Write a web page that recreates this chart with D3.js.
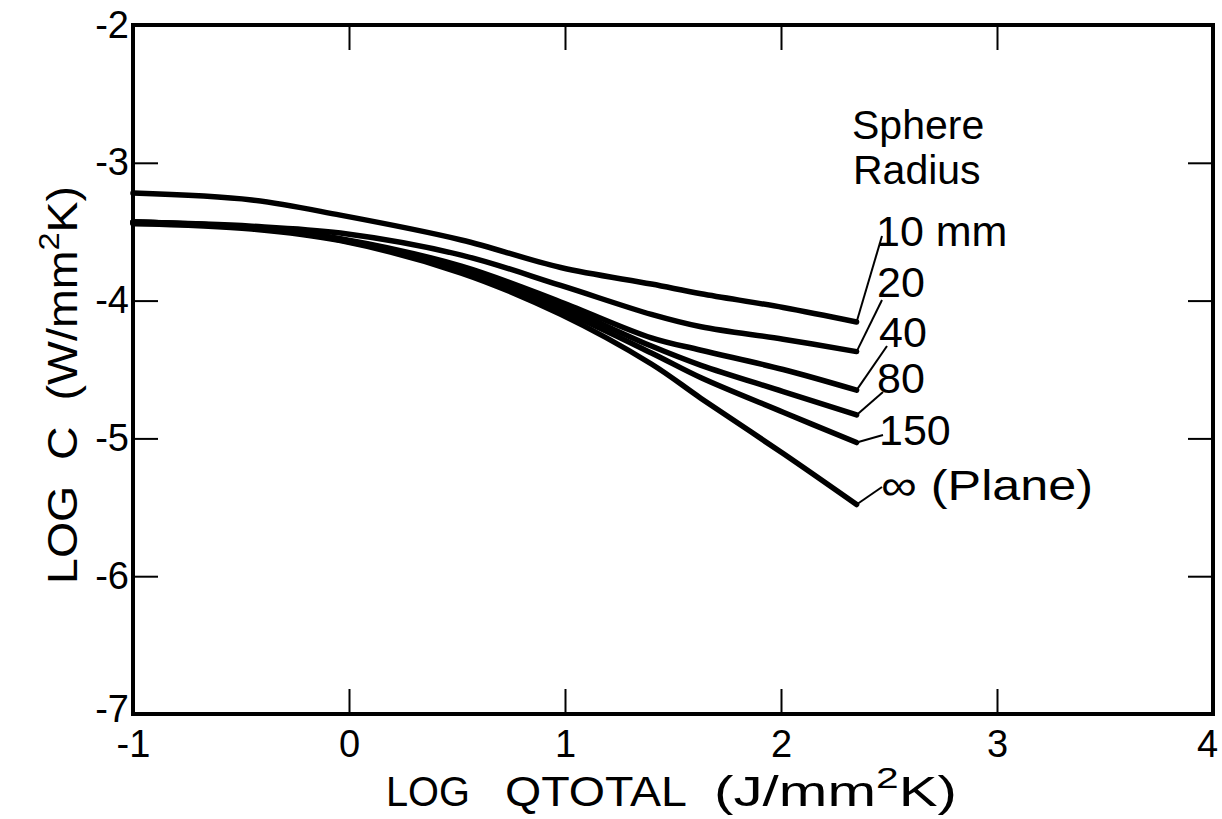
<!DOCTYPE html>
<html>
<head>
<meta charset="utf-8">
<script src="https://cdn.jsdelivr.net/npm/d3@7"></script>
<style>
  html, body { margin: 0; padding: 0; background: #fff; }
  svg { display: block; font-family: "Liberation Sans", Arial, sans-serif; }
</style>
</head>
<body>
<svg id="chart" width="1222" height="819"></svg>
<script>
'use strict';

// log Qtotal values where the curves were read
const logQ = [-1, -0.45, -0.04, 0.52, 0.98, 1.40, 1.63, 2.01, 2.35];

// log C for each sphere radius
const c10    = [-3.22, -3.27, -3.38, -3.56, -3.76, -3.88, -3.95, -4.05, -4.155];
const c20    = [-3.43, -3.46, -3.51, -3.67, -3.89, -4.10, -4.19, -4.28, -4.37];
const c40    = [-3.43, -3.47, -3.55, -3.75, -4.01, -4.27, -4.36, -4.50, -4.65];
const c80    = [-3.43, -3.47, -3.555, -3.77, -4.04, -4.33, -4.47, -4.66, -4.83];
const c150   = [-3.44, -3.47, -3.56, -3.78, -4.07, -4.38, -4.56, -4.81, -5.03];
const cPlane = [-3.44, -3.48, -3.565, -3.80, -4.10, -4.46, -4.71, -5.11, -5.48];

const seriesNames = ['10 mm', '20', '40', '80', '150', '\u221E (Plane)'];
const seriesValues = [c10, c20, c40, c80, c150, cPlane];

// axis ticks
const xTicks = [-1, 0, 1, 2, 3, 4];
const yTicks = [-2, -3, -4, -5, -6, -7];

// where the curve labels sit (text pos + leader line end), in pixels
const labelLayout = [
    { tx: 876, ty: 246, lx: 882, ly: 236 },
    { tx: 877, ty: 297, lx: 882, ly: 300 },
    { tx: 879, ty: 347, lx: 887, ly: 346 },
    { tx: 877, ty: 393, lx: 883, ly: 392 },
    { tx: 879, ty: 445, lx: 883, ly: 435 },
    { tx: 881, ty: 500, lx: 882, ly: 487 }
];

const svg = d3.select('#chart');

// plot frame
const frame = { left: 133, right: 1213, top: 25, bottom: 714 };

const x = d3.scaleLinear().domain([-1, 4]).range([frame.left, frame.right]);
const y = d3.scaleLinear().domain([-2, -7]).range([frame.top, frame.bottom]);

// ticks point inwards on all four sides
const tickLen = 25;
const fmt = d => String(d);

const gx = svg.append('g')
    .attr('transform', `translate(0,${frame.bottom})`)
    .call(d3.axisBottom(x).tickValues(xTicks).tickSize(-tickLen).tickPadding(16).tickFormat(fmt));

const gxTop = svg.append('g')
    .attr('transform', `translate(0,${frame.top})`)
    .call(d3.axisTop(x).tickValues(xTicks).tickSize(-tickLen).tickFormat(''));

const gy = svg.append('g')
    .attr('transform', `translate(${frame.left},0)`)
    .call(d3.axisLeft(y).tickValues(yTicks).tickSize(-tickLen).tickPadding(4).tickFormat(fmt));

const gyRight = svg.append('g')
    .attr('transform', `translate(${frame.right},0)`)
    .call(d3.axisRight(y).tickValues(yTicks).tickSize(-tickLen).tickFormat(''));

// style axes
[gx, gxTop, gy, gyRight].forEach(g => {
    g.select('.domain').remove();
    g.selectAll('.tick line').attr('stroke', '#000').attr('stroke-width', 2);
    g.selectAll('.tick text')
        .attr('fill', '#000')
        .attr('font-size', 38)
        .attr('font-family', '"Liberation Sans", Arial, sans-serif');
});

gx.selectAll('.tick text').attr('dy', '0.71em');
// last x label sits against the page edge, first y label corner gets nudged up
gx.selectAll('.tick text').filter(d => d === 4).attr('dx', -6);
gy.selectAll('.tick text').filter(d => d === -7).attr('dy', '0.2em');

svg.append('rect')
    .attr('x', frame.left)
    .attr('y', frame.top)
    .attr('width', frame.right - frame.left)
    .attr('height', frame.bottom - frame.top)
    .attr('fill', 'none')
    .attr('stroke', '#000')
    .attr('stroke-width', 4);

// curves
const line = d3.line()
    .x((d, i) => x(logQ[i]))
    .y(d => y(d))
    .curve(d3.curveCatmullRom.alpha(0.5));

svg.append('g')
    .selectAll('path')
    .data(seriesValues)
    .enter()
    .append('path')
    .attr('d', line)
    .attr('fill', 'none')
    .attr('stroke', '#000')
    .attr('stroke-width', 5.5)
    .attr('stroke-linecap', 'round')
    .attr('stroke-linejoin', 'round');

// leader lines from curve ends to labels
const last = logQ.length - 1;
svg.append('g')
    .selectAll('line')
    .data(seriesValues)
    .enter()
    .append('line')
    .attr('x1', d => x(logQ[last]))
    .attr('y1', d => y(d[last]))
    .attr('x2', (d, i) => labelLayout[i].lx)
    .attr('y2', (d, i) => labelLayout[i].ly)
    .attr('stroke', '#000')
    .attr('stroke-width', 2);

svg.append('g')
    .selectAll('text')
    .data(seriesNames)
    .enter()
    .append('text')
    .attr('x', (d, i) => labelLayout[i].tx)
    .attr('y', (d, i) => labelLayout[i].ty)
    .attr('font-size', 43)
    .attr('fill', '#000')
    .each(function(d, i) {
        // the plane label is drawn wider in the original lettering
        if (i === seriesNames.length - 1) {
            d3.select(this).attr('textLength', 212).attr('lengthAdjust', 'spacingAndGlyphs');
        }
    })
    .text(d => d);

// legend heading
svg.append('text')
    .attr('x', 852).attr('y', 139)
    .attr('font-size', 41)
    .text('Sphere');
svg.append('text')
    .attr('x', 853).attr('y', 184)
    .attr('font-size', 41)
    .text('Radius');

// x axis title
const xt = { size: 43, base: 806 };
svg.append('text').attr('x', 386).attr('y', xt.base).attr('font-size', xt.size)
    .attr('textLength', 84).attr('lengthAdjust', 'spacingAndGlyphs').text('LOG');
svg.append('text').attr('x', 505).attr('y', xt.base).attr('font-size', xt.size)
    .attr('textLength', 182).attr('lengthAdjust', 'spacingAndGlyphs').text('QTOTAL');
const xUnit = svg.append('text').attr('x', 714).attr('y', xt.base).attr('font-size', xt.size)
    .attr('textLength', 243).attr('lengthAdjust', 'spacingAndGlyphs');
xUnit.append('tspan').text('(J/mm');
xUnit.append('tspan').attr('dy', -18).attr('font-size', 30).text('2');
xUnit.append('tspan').attr('dy', 18).text('K)');

// y axis title (reads upward, spans roughly y 186..584)
const yTitle = svg.append('text')
    .attr('transform', 'translate(77,385) rotate(-90)')
    .attr('text-anchor', 'middle')
    .attr('font-size', 43)
    .attr('xml:space', 'preserve')
    .attr('textLength', 398)
    .attr('lengthAdjust', 'spacingAndGlyphs');
yTitle.append('tspan').text('LOG  C  (W/mm');
yTitle.append('tspan').attr('dy', -18).attr('font-size', 30).text('2');
yTitle.append('tspan').attr('dy', 18).text('K)');
</script>
</body>
</html>
